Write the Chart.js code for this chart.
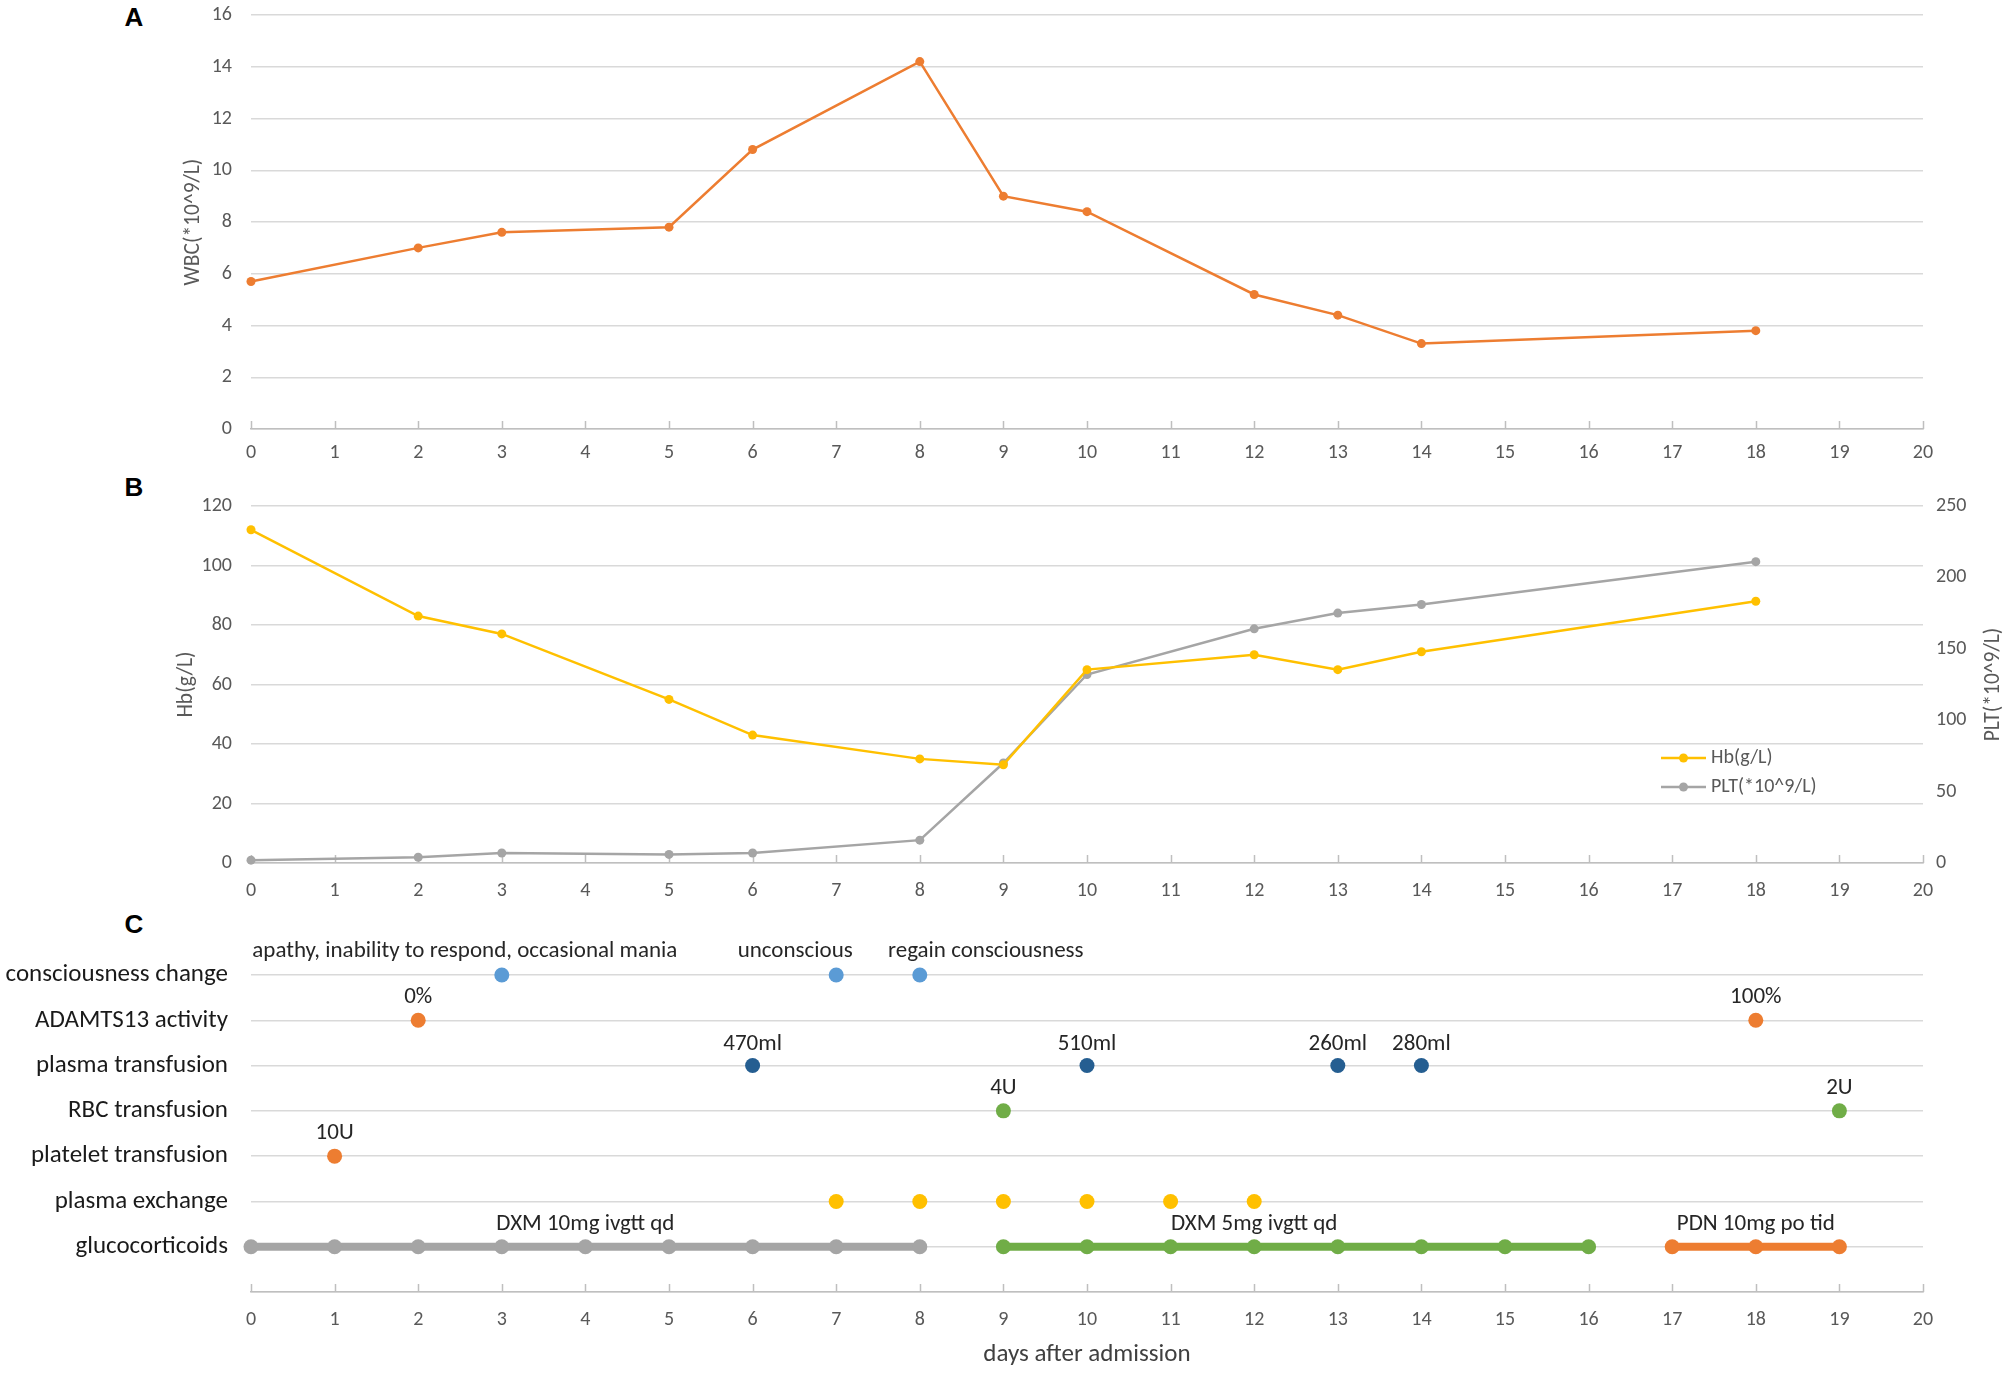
<!DOCTYPE html>
<html>
<head>
<meta charset="utf-8">
<script src="https://cdn.jsdelivr.net/npm/chart.js@4.4.1/dist/chart.umd.min.js"></script>
<style>
body { margin: 0; background: #fff; width: 2008px; height: 1374px; position: relative; overflow: hidden; }
canvas { position: absolute; left: 0; }
.tag { position: absolute; width: 40px; text-align: center; line-height: 30px; font: bold 26px "Liberation Sans", Arial, sans-serif; color: #000; }
</style>
</head>
<body>
<div class="tag" style="left:114px;top:2px">A</div>
<div class="tag" style="left:114px;top:472px">B</div>
<div class="tag" style="left:114px;top:909px">C</div>
<canvas id="wbcChart" width="2008" height="470" style="top:0"></canvas>
<canvas id="bloodChart" width="2008" height="430" style="top:470px"></canvas>
<canvas id="eventChart" width="2008" height="474" style="top:900px"></canvas>
<script>
// lab values, days after admission
var labDays = [0, 2, 3, 5, 6, 8, 9, 10, 12, 13, 14, 18];
var wbcValues = [5.7, 7.0, 7.6, 7.8, 10.8, 14.2, 9.0, 8.4, 5.2, 4.4, 3.3, 3.8];
var hbValues = [112, 83, 77, 55, 43, 35, 33, 65, 70, 65, 71, 88];
var pltValues = [2, 4, 7, 6, 7, 16, 70, 132, 164, 175, 181, 211];

// panel C rows (bottom to top)
var rowNames = ['', 'glucocorticoids', 'plasma exchange', 'platelet transfusion',
  'RBC transfusion', 'plasma transfusion', 'ADAMTS13 activity', 'consciousness change'];

var consciousDays = [3, 7, 8];
var consciousNotes = ['apathy, inability to respond, occasional mania', 'unconscious', 'regain consciousness'];
var adamtsDays = [2, 18];
var adamtsNotes = ['0%', '100%'];
var plasmaDays = [6, 10, 13, 14];
var plasmaNotes = ['470ml', '510ml', '260ml', '280ml'];
var rbcDays = [9, 19];
var rbcNotes = ['4U', '2U'];
var plateletDays = [1];
var plateletNotes = ['10U'];
var exchangeDays = [7, 8, 9, 10, 11, 12];
var dxm10Days = [0, 1, 2, 3, 4, 5, 6, 7, 8];
var dxm10Notes = ['', '', '', '', 'DXM 10mg ivgtt qd', '', '', '', ''];
var dxm5Days = [9, 10, 11, 12, 13, 14, 15, 16];
var dxm5Notes = ['', '', '', 'DXM 5mg ivgtt qd', '', '', '', ''];
var pdnDays = [17, 18, 19];
var pdnNotes = ['', 'PDN 10mg po tid', ''];

var FONT = "Carlito, Calibri, Lato, sans-serif";
var GRID = '#D9D9D9';
var AXIS = '#BFBFBF';
var ORANGE = '#ED7D31', YELLOW = '#FFC000', GREY = '#A5A5A5';
var LIGHTBLUE = '#5B9BD5', DARKBLUE = '#255E91', GREEN = '#70AD47';
var TICK_SIZE = 20, TITLE_SIZE = 21.5;

Chart.defaults.font.family = FONT;
Chart.defaults.color = '#595959';
Chart.defaults.animation = false;
Chart.defaults.plugins.legend.display = false;
Chart.defaults.plugins.tooltip.enabled = false;

function pairs(xs, ys) {
  return xs.map(function (d, i) { return { x: d, y: ys[i] }; });
}
function onRow(xs, row) {
  return xs.map(function (d) { return { x: d, y: row }; });
}

// little upward tick marks on the day axis
var innerTicks = {
  id: 'innerTicks',
  beforeDatasetsDraw: function (chart) {
    var sx = chart.scales.x, ctx = chart.ctx, b = chart.chartArea.bottom;
    ctx.save();
    ctx.strokeStyle = AXIS;
    ctx.lineWidth = 1.5;
    for (var d = sx.min; d <= sx.max; d++) {
      var px = Math.round(sx.getPixelForValue(d)) + 0.5;
      ctx.beginPath();
      ctx.moveTo(px, b);
      ctx.lineTo(px, b - 8);
      ctx.stroke();
    }
    ctx.restore();
  }
};

// text written over points
var pointNotes = {
  id: 'pointNotes',
  afterDatasetsDraw: function (chart) {
    var ctx = chart.ctx;
    ctx.save();
    ctx.font = '23px ' + FONT;
    ctx.fillStyle = '#262626';
    ctx.textAlign = 'center';
    ctx.textBaseline = 'middle';
    chart.data.datasets.forEach(function (ds, i) {
      if (!ds.notes) return;
      var meta = chart.getDatasetMeta(i);
      ds.notes.forEach(function (t, j) {
        if (!t) return;
        var p = meta.data[j];
        var dx = ds.noteShift ? ds.noteShift[j] : 0;
        ctx.fillText(t, p.x + dx, p.y - (ds.noteLift || 23));
      });
    });
    ctx.restore();
  }
};

// right axis title reads bottom to top like excel
var rightTitle = {
  id: 'rightTitle',
  afterDraw: function (chart) {
    var ctx = chart.ctx, a = chart.chartArea;
    ctx.save();
    ctx.translate(chart.width - 14, (a.top + a.bottom) / 2);
    ctx.rotate(-Math.PI / 2);
    ctx.font = TITLE_SIZE + 'px ' + FONT;
    ctx.fillStyle = '#595959';
    ctx.textAlign = 'center';
    ctx.textBaseline = 'middle';
    ctx.fillText(chart.options.scales.y2.titleText, 0, 0);
    ctx.restore();
  }
};

// legend sitting inside the plot of panel B
var boxLegend = {
  id: 'boxLegend',
  afterDraw: function (chart) {
    var ctx = chart.ctx, a = chart.chartArea;
    var x0 = a.right - 262, y0 = a.top + 252;
    ctx.save();
    ctx.font = TICK_SIZE + 'px ' + FONT;
    ctx.textBaseline = 'middle';
    chart.data.datasets.forEach(function (ds, i) {
      var y = y0 + i * 29;
      ctx.strokeStyle = ds.borderColor;
      ctx.lineWidth = 2.5;
      ctx.beginPath();
      ctx.moveTo(x0, y);
      ctx.lineTo(x0 + 45, y);
      ctx.stroke();
      ctx.fillStyle = ds.borderColor;
      ctx.beginPath();
      ctx.arc(x0 + 22.5, y, 4.5, 0, Math.PI * 2);
      ctx.fill();
      ctx.fillStyle = '#595959';
      ctx.fillText(ds.label, x0 + 50, y);
    });
    ctx.restore();
  }
};

function dayAxis(height, pad) {
  return {
    type: 'linear', min: 0, max: 20,
    ticks: { stepSize: 1, font: { size: TICK_SIZE }, color: '#595959', padding: pad },
    grid: { drawOnChartArea: false, drawTicks: false },
    border: { color: AXIS, width: 1.5 },
    afterFit: function (s) { s.height = height; }
  };
}

function leftAxis(min, max, step, title, titleCenter) {
  return {
    position: 'left', min: min, max: max,
    ticks: { stepSize: step, font: { size: TICK_SIZE }, color: '#595959', padding: 19 },
    grid: { color: GRID, lineWidth: 1.5, drawTicks: false },
    border: { display: false },
    title: { display: true, text: title, font: { size: TITLE_SIZE }, color: '#595959', padding: { top: titleCenter - TITLE_SIZE * 0.6 } },
    afterFit: function (s) { s.width = 251; s.paddingTop = 10; s.paddingBottom = 10; }
  };
}

// A: WBC
new Chart(document.getElementById('wbcChart'), {
  type: 'line',
  data: {
    datasets: [{
      label: 'WBC(*10^9/L)',
      data: pairs(labDays, wbcValues),
      borderColor: ORANGE, backgroundColor: ORANGE,
      borderWidth: 2.5, pointRadius: 4.5, pointBorderWidth: 0, clip: false
    }]
  },
  options: {
    responsive: false, devicePixelRatio: 1,
    layout: { padding: { top: 15, right: 85, left: 0, bottom: 0 } },
    scales: {
      x: dayAxis(41, 12),
      y: leftAxis(0, 16, 2, 'WBC(*10^9/L)', 194)
    }
  },
  plugins: [innerTicks]
});

// B: Hb and PLT
var pltAxis = {
  position: 'right', min: 0, max: 250,
  ticks: { stepSize: 50, font: { size: TICK_SIZE }, color: '#595959', padding: 13 },
  grid: { drawOnChartArea: false, drawTicks: false },
  border: { display: false },
  titleText: 'PLT(*10^9/L)',
  afterFit: function (s) { s.width = 85; s.paddingTop = 10; s.paddingBottom = 10; }
};

new Chart(document.getElementById('bloodChart'), {
  type: 'line',
  data: {
    datasets: [{
      label: 'Hb(g/L)',
      data: pairs(labDays, hbValues),
      yAxisID: 'y',
      borderColor: YELLOW, backgroundColor: YELLOW,
      borderWidth: 2.5, pointRadius: 4.5, pointBorderWidth: 0, clip: false
    }, {
      label: 'PLT(*10^9/L)',
      data: pairs(labDays, pltValues),
      yAxisID: 'y2',
      borderColor: GREY, backgroundColor: GREY,
      borderWidth: 2.5, pointRadius: 4.5, pointBorderWidth: 0, clip: false
    }]
  },
  options: {
    responsive: false, devicePixelRatio: 1,
    layout: { padding: { top: 36, right: 0, left: 0, bottom: 0 } },
    scales: {
      x: dayAxis(37, 16),
      y: leftAxis(0, 120, 20, 'Hb(g/L)', 187),
      y2: pltAxis
    }
  },
  plugins: [innerTicks, rightTitle, boxLegend]
});

// C: events and treatment
function eventSet(days, row, color, notes, extra) {
  var ds = {
    data: onRow(days, row),
    borderColor: color, backgroundColor: color,
    pointRadius: 7.5, pointBorderWidth: 0, showLine: false,
    notes: notes, clip: false
  };
  for (var k in extra) ds[k] = extra[k];
  return ds;
}

new Chart(document.getElementById('eventChart'), {
  type: 'scatter',
  data: {
    datasets: [
      eventSet(consciousDays, 7, LIGHTBLUE, consciousNotes, { noteShift: [-37, -41, 66], noteLift: 24 }),
      eventSet(adamtsDays, 6, ORANGE, adamtsNotes, {}),
      eventSet(plasmaDays, 5, DARKBLUE, plasmaNotes, { noteLift: 21 }),
      eventSet(rbcDays, 4, GREEN, rbcNotes, {}),
      eventSet(plateletDays, 3, ORANGE, plateletNotes, {}),
      eventSet(exchangeDays, 2, YELLOW, null, {}),
      eventSet(dxm10Days, 1, GREY, dxm10Notes, { showLine: true, borderWidth: 8, noteLift: 22 }),
      eventSet(dxm5Days, 1, GREEN, dxm5Notes, { showLine: true, borderWidth: 8, noteLift: 22 }),
      eventSet(pdnDays, 1, ORANGE, pdnNotes, { showLine: true, borderWidth: 8, noteLift: 22 })
    ]
  },
  options: {
    responsive: false, devicePixelRatio: 1,
    layout: { padding: { top: 75, right: 85, left: 0, bottom: 0 } },
    scales: {
      x: (function () {
        var ax = dayAxis(82, 16);
        ax.title = { display: true, text: 'days after admission', font: { size: 25 }, color: '#404040', padding: { bottom: 4 } };
        return ax;
      })(),
      y: {
        min: 0, max: 7,
        ticks: {
          stepSize: 1, font: { size: 25 }, color: '#1a1a1a', padding: 23,
          callback: function (v) { return rowNames[v] || ''; }
        },
        grid: { color: GRID, lineWidth: 1.5, drawTicks: false },
        border: { display: false },
        afterFit: function (s) { s.width = 251; }
      }
    }
  },
  plugins: [innerTicks, pointNotes]
});
</script>
</body>
</html>
